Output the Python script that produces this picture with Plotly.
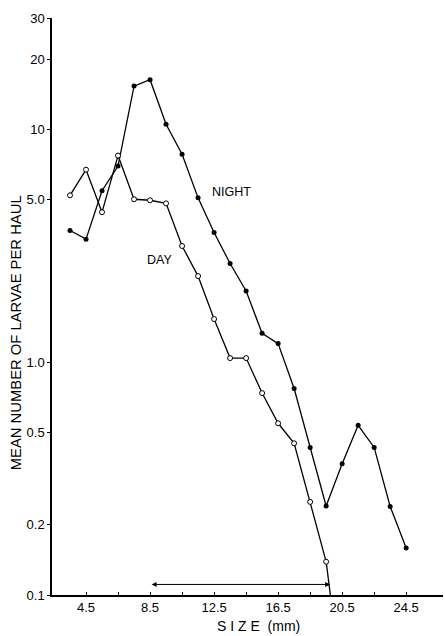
import math
import plotly.graph_objects as go

# ---- data ----
size_mm = [3.5, 4.5, 5.5, 6.5, 7.5, 8.5, 9.5, 10.5, 11.5, 12.5, 13.5, 14.5,
           15.5, 16.5, 17.5, 18.5, 19.5, 20.5, 21.5, 22.5, 23.5, 24.5]
night = [3.67, 3.37, 5.44, 6.94, 15.3, 16.3, 10.5, 7.8, 5.07, 3.6, 2.65, 2.02,
         1.33, 1.2, 0.77, 0.43, 0.241, 0.366, 0.535, 0.43, 0.24, 0.159]
day_size = [3.5, 4.5, 5.5, 6.5, 7.5, 8.5, 9.5, 10.5, 11.5, 12.5, 13.5, 14.5,
            15.5, 16.5, 17.5, 18.5, 19.5]
day = [5.2, 6.7, 4.4, 7.7, 5.0, 4.95, 4.8, 3.15, 2.34, 1.53, 1.04, 1.04,
       0.736, 0.546, 0.448, 0.251, 0.139]
# continuation of the day line below the axis
day_tail_size = [19.5, 20.5]
day_tail = [0.139, 0.04]

x_tickvals = [4.5, 6.5, 8.5, 10.5, 12.5, 14.5, 16.5, 18.5, 20.5, 22.5, 24.5]
x_ticktext = ["4.5", "", "8.5", "", "12.5", "", "16.5", "", "20.5", "", "24.5"]
y_tickvals = [0.1, 0.2, 0.5, 1.0, 5.0, 10, 20, 30]
y_ticktext = ["0.1", "0.2", "0.5", "1.0", "5.0", "10", "20", "30"]

arrow_range = [8.5, 19.75]
arrow_level = 0.111

FONT = "Liberation Sans"

fig = go.Figure()
fig.add_trace(go.Scatter(
    x=day_tail_size, y=day_tail, mode="lines",
    line=dict(color="black", width=1.3), showlegend=False, hoverinfo="skip"))
fig.add_trace(go.Scatter(
    x=size_mm, y=night, mode="lines+markers", name="NIGHT",
    line=dict(color="black", width=1.3),
    marker=dict(symbol="circle", size=5, color="black"),
    showlegend=False))
fig.add_trace(go.Scatter(
    x=day_size, y=day, mode="lines+markers", name="DAY",
    line=dict(color="black", width=1.3),
    marker=dict(symbol="circle", size=5, color="white",
                line=dict(color="black", width=1)),
    showlegend=False))

fig.add_annotation(text="NIGHT", x=13.6, y=math.log10(5.37), xref="x", yref="y",
                   showarrow=False, font=dict(family=FONT, size=12.5, color="black"))
fig.add_annotation(text="DAY", x=9.1, y=math.log10(2.74), xref="x", yref="y",
                   showarrow=False, font=dict(family=FONT, size=12.5, color="black"))

# double-headed arrow
fig.add_annotation(x=arrow_range[1], y=math.log10(arrow_level),
                   ax=arrow_range[0], ay=math.log10(arrow_level),
                   xref="x", yref="y", axref="x", ayref="y",
                   text="", showarrow=True, arrowhead=2, arrowside="end+start",
                   arrowsize=1, arrowwidth=1, arrowcolor="black")

# axis titles
fig.add_annotation(text="S I Z E  (mm)", x=0.529, y=-0.054, xref="paper", yref="paper",
                   showarrow=False, yanchor="middle", xanchor="center",
                   font=dict(family=FONT, size=14, color="black"))
fig.add_annotation(text="MEAN NUMBER OF LARVAE PER HAUL", textangle=-90,
                   x=-0.09, y=0.455, xref="paper", yref="paper",
                   xanchor="center", yanchor="middle", showarrow=False,
                   font=dict(family=FONT, size=14.8, color="black"))

fig.update_xaxes(range=[2.375, 26.8], tickvals=x_tickvals, ticktext=x_ticktext,
                 ticks="inside", ticklen=3, tickcolor="black",
                 showline=True, linecolor="black", linewidth=1.5,
                 showgrid=False, zeroline=False,
                 tickfont=dict(family=FONT, size=13, color="black"))
fig.update_yaxes(type="log", range=[-1, math.log10(30)],
                 tickvals=y_tickvals, ticktext=y_ticktext,
                 ticks="outside", ticklen=3, tickcolor="black",
                 showline=True, linecolor="black", linewidth=1.5,
                 showgrid=False, zeroline=False,
                 tickfont=dict(family=FONT, size=13, color="black"))

fig.update_layout(width=445, height=636,
                  margin=dict(l=52, r=2, t=18, b=41),
                  paper_bgcolor="white", plot_bgcolor="white")

fig.write_html("out.html")
